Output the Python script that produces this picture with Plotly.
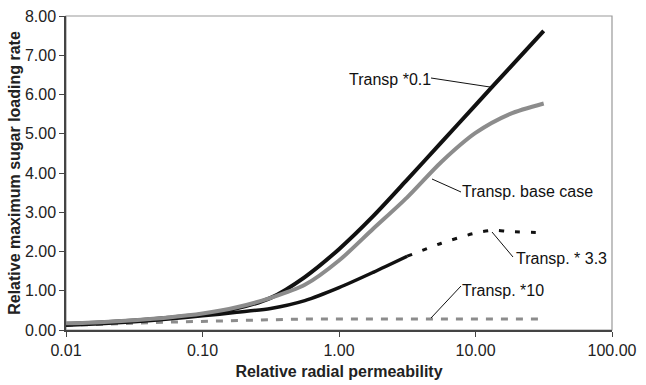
import plotly.graph_objects as go

# Relative radial permeability (x) vs relative maximum sugar loading rate (y)
x_grid = [0.01, 0.0178, 0.0316, 0.0562, 0.1, 0.178, 0.316, 0.562, 1.0, 1.78, 3.16, 5.62, 10.0, 17.8, 31.6]

y_t01 = [0.15, 0.19, 0.24, 0.31, 0.40, 0.55, 0.82, 1.35, 2.06, 2.90, 3.83, 4.78, 5.73, 6.68, 7.62]
y_base = [0.17, 0.20, 0.25, 0.32, 0.42, 0.58, 0.82, 1.15, 1.77, 2.58, 3.38, 4.28, 5.02, 5.50, 5.77]
y_t10 = [0.12, 0.14, 0.17, 0.20, 0.22, 0.25, 0.27, 0.28, 0.28, 0.28, 0.28, 0.28, 0.28, 0.28, 0.28]

x_t33 = [0.01, 0.0178, 0.0316, 0.0562, 0.1, 0.178, 0.316, 0.562, 1.0, 1.78, 3.16]
y_t33 = [0.12, 0.16, 0.21, 0.28, 0.36, 0.45, 0.55, 0.75, 1.08, 1.47, 1.88]

x_t33_ext = [3.16, 5.62, 10.0, 13.6, 17.8, 31.6]
y_t33_ext = [1.88, 2.21, 2.47, 2.54, 2.51, 2.48]

x_tickvals = [0.01, 0.1, 1, 10, 100]
x_ticktext = ["0.01", "0.10", "1.00", "10.00", "100.00"]

FONT = "Liberation Sans, Arial, sans-serif"
BLACK = "#111111"
GREY = "#8c8c8c"

W, H = 646, 385
ML, MR, MT, MB = 66, 34, 16, 55
PW, PH = W - ML - MR, H - MT - MB


def px(xp):
    return (xp - ML) / PW


def py(yp):
    return (H - MB - yp) / PH


fig = go.Figure()
fig.add_trace(go.Scatter(x=x_grid, y=y_t10, mode="lines",
                         line=dict(color=GREY, width=3, dash="7px,8px")))
fig.add_trace(go.Scatter(x=x_t33, y=y_t33, mode="lines",
                         line=dict(color=BLACK, width=3.5, shape="spline", smoothing=0.8)))
fig.add_trace(go.Scatter(x=x_t33_ext, y=y_t33_ext, mode="lines",
                         line=dict(color=BLACK, width=3, dash="5px,11px", shape="spline", smoothing=0.8)))
fig.add_trace(go.Scatter(x=x_grid, y=y_t01, mode="lines",
                         line=dict(color=BLACK, width=4, shape="spline", smoothing=0.8)))
fig.add_trace(go.Scatter(x=x_grid, y=y_base, mode="lines",
                         line=dict(color=GREY, width=4, shape="spline", smoothing=0.8)))

# Curve labels with leader lines (pixel positions)
labels = [
    ("Transp *0.1", 348, 80, (431, 78), (490, 87)),
    ("Transp. base case", 461, 191, (432, 179), (461, 192)),
    ("Transp. * 3.3", 515, 258, (492, 232), (513, 257)),
    ("Transp. *10", 461, 290, (431, 318), (461, 286)),
]
for text, tx, ty, p0, p1 in labels:
    fig.add_annotation(x=px(tx), y=py(ty), xref="paper", yref="paper",
                       text=text, showarrow=False, xanchor="left", yanchor="middle",
                       font=dict(family=FONT, size=16, color="#111"), borderpad=0)
    fig.add_shape(type="line", xref="paper", yref="paper",
                  x0=px(p0[0]), y0=py(p0[1]), x1=px(p1[0]), y1=py(p1[1]),
                  line=dict(color="#111", width=1))

# Light frame around the plot area
fig.add_shape(type="rect", xref="paper", yref="paper", x0=0, y0=0, x1=1, y1=1,
              line=dict(color="#999", width=1.2), layer="below")

fig.update_layout(
    width=W, height=H,
    margin=dict(l=ML, r=MR, t=MT, b=MB),
    paper_bgcolor="white", plot_bgcolor="white",
    showlegend=False,
    font=dict(family=FONT, size=16, color="#222"),
    xaxis=dict(type="log", range=[-2, 2], tickvals=x_tickvals, ticktext=x_ticktext,
               automargin=False,
               showgrid=False, zeroline=False, showline=True, linecolor="#444", linewidth=1.5,
               ticks="outside", ticklen=5, tickcolor="#444",
               title=dict(text="<b>Relative radial permeability</b>", standoff=8,
                          font=dict(family=FONT, size=16, color="#222"))),
    yaxis=dict(range=[0, 8], dtick=1, tickformat=".2f",
               automargin=False,
               showgrid=False, zeroline=False, showline=True, linecolor="#444", linewidth=1.5,
               ticks="outside", ticklen=5, tickcolor="#444",
               title=dict(text="<b>Relative maximum sugar loading rate</b>", standoff=0,
                          font=dict(family=FONT, size=16, color="#222"))),
)

fig.write_html("out.html")
